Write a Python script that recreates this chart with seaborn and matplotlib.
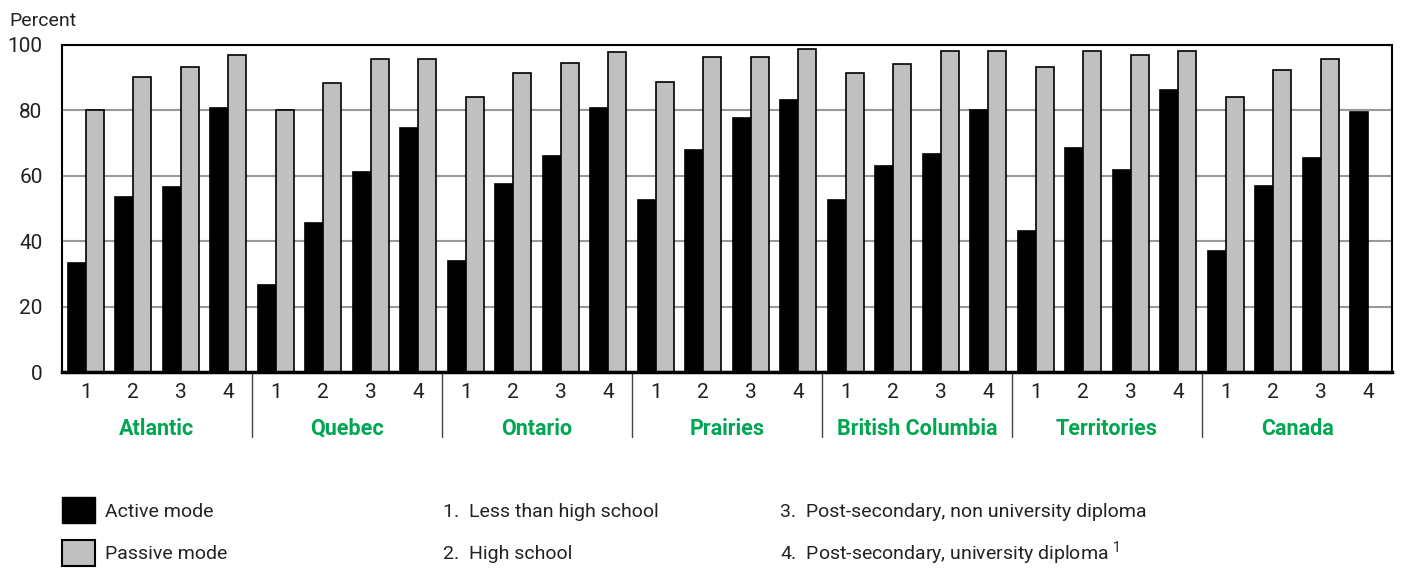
#!/usr/bin/env python3
import numpy as np
import pandas as pd
import seaborn as sns
import matplotlib.pyplot as plt
from matplotlib.patches import Rectangle

regions = ['Atlantic', 'Quebec', 'Ontario', 'Prairies', 'British Columbia', 'Territories', 'Canada']
levels = ['1', '2', '3', '4']
active = [33.3, 53.4, 56.5, 80.7,
          26.6, 45.7, 61.3, 74.7,
          33.9, 57.5, 66.2, 80.7,
          52.7, 67.9, 77.7, 83.1,
          52.7, 63.1, 66.8, 80.1,
          43.0, 68.6, 61.9, 86.1,
          37.0, 57.0, 65.5, 79.6]
passive = [80.0, 90.3, 93.4, 97.0,
           80.0, 88.5, 95.6, 95.6,
           84.1, 91.5, 94.6, 97.7,
           88.6, 96.4, 96.4, 98.8,
           91.5, 94.1, 98.2, 98.2,
           93.3, 98.2, 97.0, 98.2,
           84.0, 92.2, 95.6, np.nan]
legend_levels = ['1.  Less than high school', '2.  High school',
                 '3.  Post-secondary, non university diploma',
                 '4.  Post-secondary, university diploma $^{1}$']

sns.set_style('white')
plt.rcParams['font.family'] = ['Roboto', 'DejaVu Sans']
plt.rcParams['mathtext.fontset'] = 'custom'
plt.rcParams['mathtext.rm'] = 'Roboto'

slots = [f'{r}|{l}' for r in regions for l in levels]
df = pd.DataFrame({
    'slot': slots * 2,
    'value': active + passive,
    'mode': ['Active mode'] * len(slots) + ['Passive mode'] * len(slots),
})

fig = plt.figure(figsize=(14.03, 5.69), dpi=100)
ax = fig.add_axes([0.0442, 0.346, 0.948, 0.575])

sns.barplot(data=df, x='slot', y='value', hue='mode', order=slots,
            palette={'Active mode': 'black', 'Passive mode': '#c0c0c0'},
            edgecolor='black', linewidth=1.2, width=0.76, legend=False, ax=ax)

ax.set_ylim(0, 100)
ax.set_xlim(-0.5, len(slots) - 0.5)
ax.set_yticks([0, 20, 40, 60, 80, 100])
ax.yaxis.grid(True, color='#999999', linewidth=1.5)
ax.set_axisbelow(True)
for s in ax.spines.values():
    s.set_color('black')
    s.set_linewidth(1.5)
ax.spines['bottom'].set_linewidth(2.5)
ax.set_xlabel('')
ax.set_ylabel('')
ax.set_xticks(range(len(slots)))
ax.set_xticklabels([l for r in regions for l in levels])
ax.tick_params(axis='both', length=0, labelsize=15, colors='#222222')
ax.tick_params(axis='x', pad=8)
ax.tick_params(axis='y', pad=14)

fig.text(0.007, 0.955, 'Percent', fontsize=14, color='#222222')

# group labels and separators
for i, r in enumerate(regions):
    ax.text(i * 4 + 1.5, -0.173, r, transform=ax.get_xaxis_transform(),
            ha='center', va='center', fontsize=15.5, fontweight='bold', color='#00a651')
    if i > 0:
        ax.plot([i * 4 - 0.5, i * 4 - 0.5], [0, -0.198], transform=ax.get_xaxis_transform(),
                color='#444444', linewidth=1, clip_on=False)

# legend
fig.patches.append(Rectangle((62 / 1403, 1 - 523 / 569), 33 / 1403, 26 / 569,
                             transform=fig.transFigure, facecolor='black', edgecolor='black'))
fig.patches.append(Rectangle((62 / 1403, 1 - 566 / 569), 33 / 1403, 26 / 569,
                             transform=fig.transFigure, facecolor='#c0c0c0', edgecolor='black', linewidth=1.5))
fig.text(105 / 1403, 1 - 512 / 569, 'Active mode', fontsize=14, va='center', color='#222222')
fig.text(105 / 1403, 1 - 554 / 569, 'Passive mode', fontsize=14, va='center', color='#222222')
fig.text(443 / 1403, 1 - 512 / 569, legend_levels[0], fontsize=14, va='center', color='#222222')
fig.text(443 / 1403, 1 - 554 / 569, legend_levels[1], fontsize=14, va='center', color='#222222')
fig.text(780 / 1403, 1 - 512 / 569, legend_levels[2], fontsize=14, va='center', color='#222222')
fig.text(780 / 1403, 1 - 554 / 569, legend_levels[3], fontsize=14, va='center', color='#222222')

plt.savefig('out.png', dpi=100)
plt.close()
